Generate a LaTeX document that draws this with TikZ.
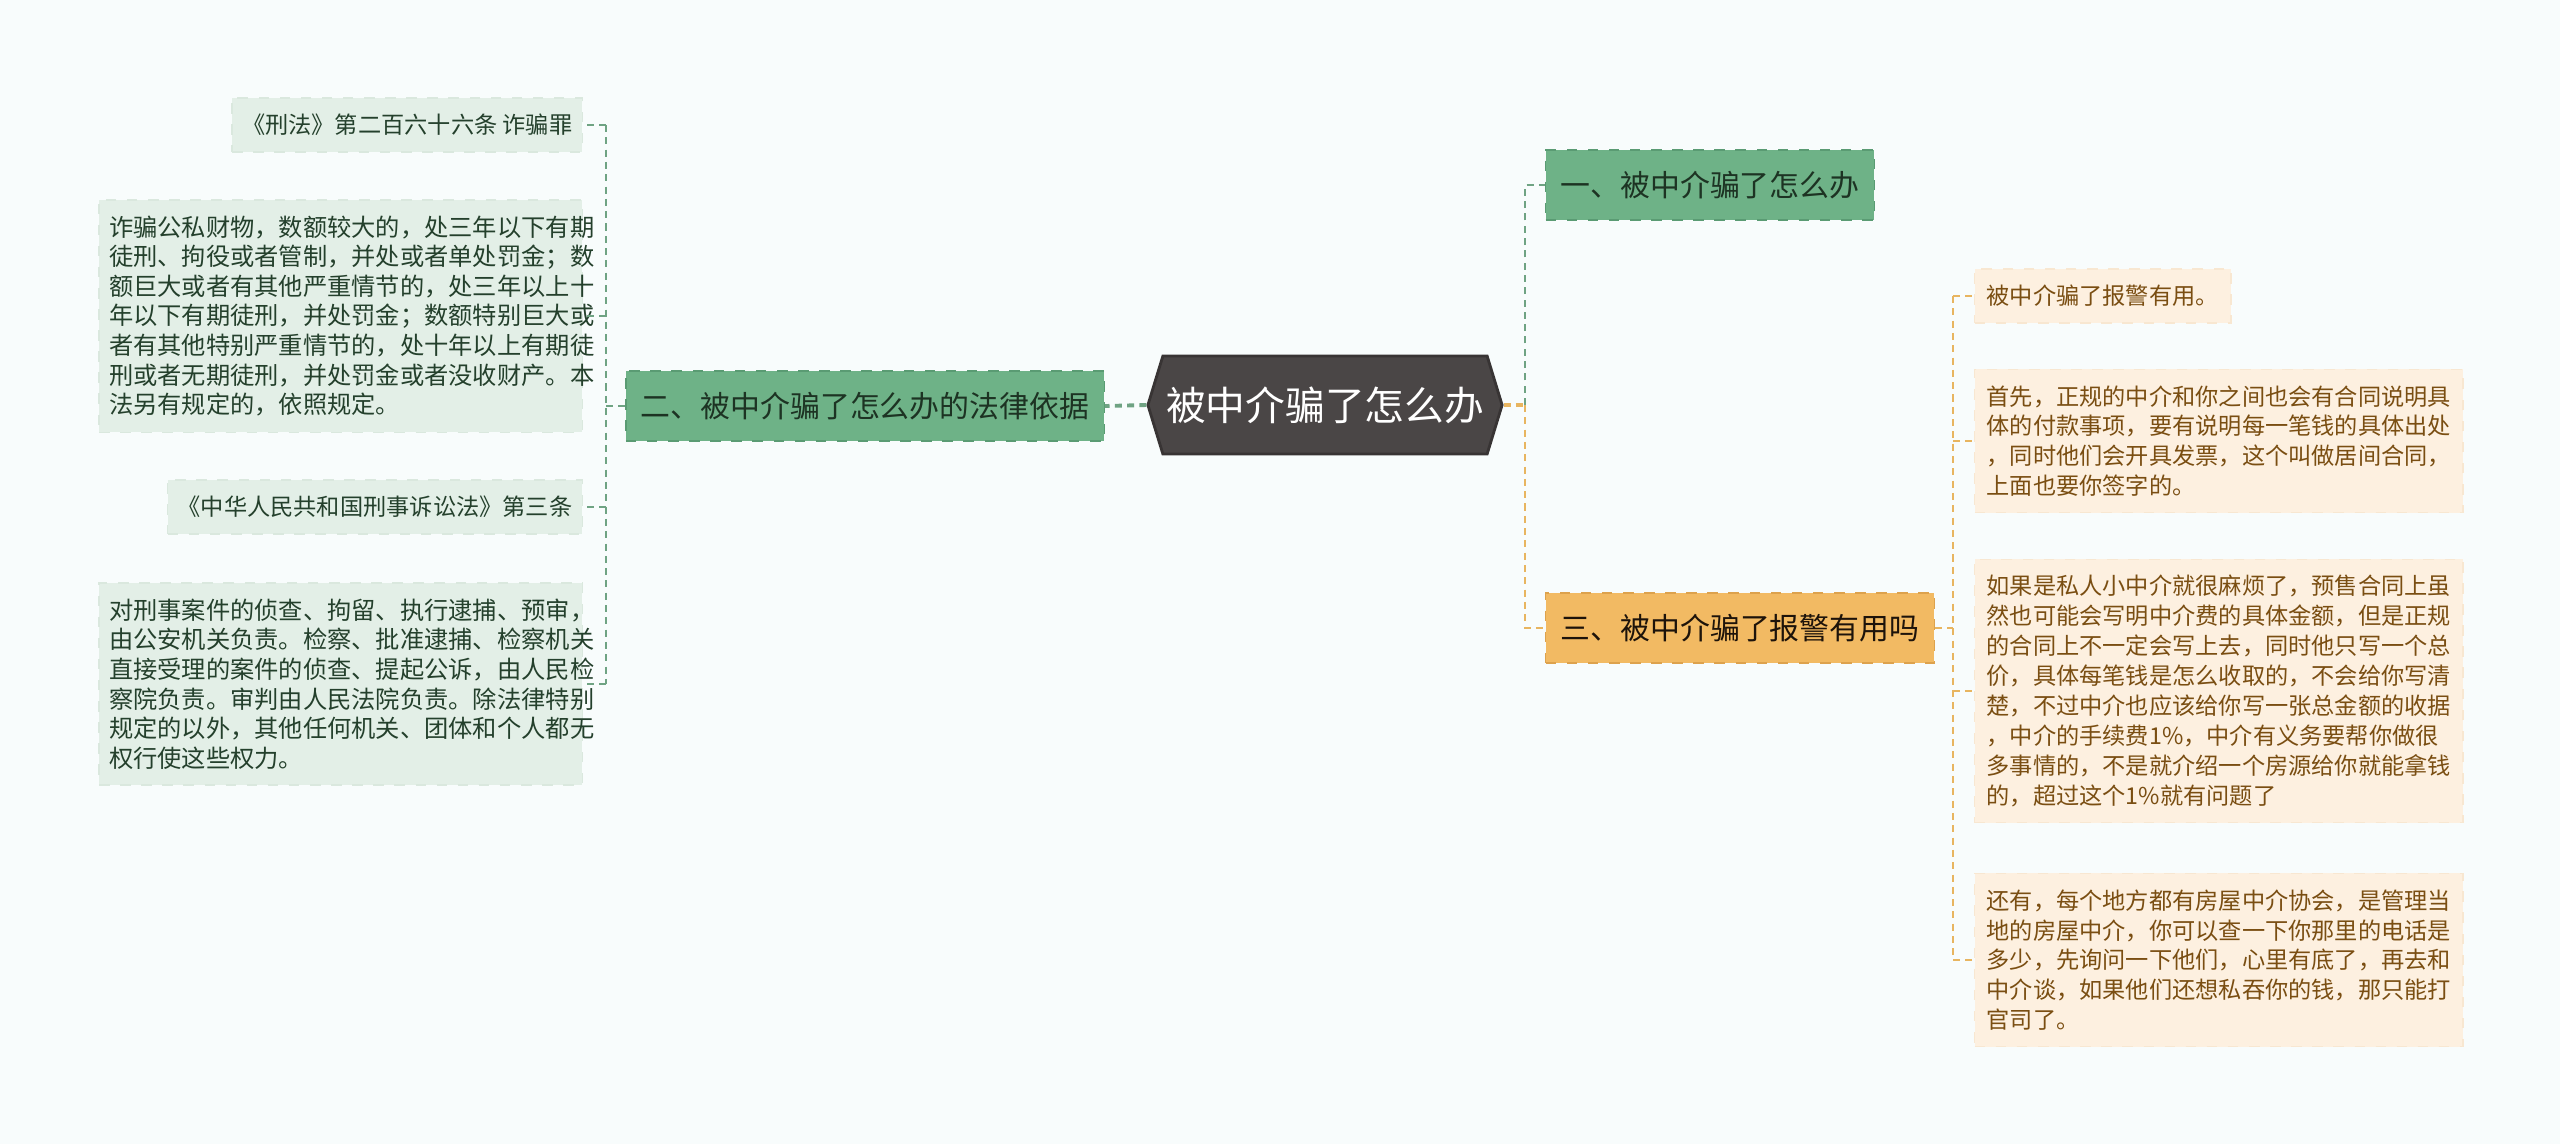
\documentclass[tikz,border=0pt]{standalone}
\usepackage{fontspec}
\setmainfont{Noto Sans CJK SC}
\usetikzlibrary{shapes.symbols}

\definecolor{bgcol}{HTML}{F8FCFC}
\definecolor{rootgray}{HTML}{4A4646}
\definecolor{rootedge}{HTML}{383434}
\definecolor{branchgreen}{HTML}{6EB287}
\definecolor{branchgreenedge}{HTML}{5A9B73}
\definecolor{branchorange}{HTML}{F2BA63}
\definecolor{branchorangeedge}{HTML}{DDA24D}
\definecolor{leafgreen}{HTML}{E3EFE7}
\definecolor{leafgreenedge}{HTML}{DAE8DE}
\definecolor{leafcream}{HTML}{FDF0E0}
\definecolor{leafcreamedge}{HTML}{F8E7D1}
\definecolor{textgreen}{HTML}{24402C}
\definecolor{textbrown}{HTML}{7A4E12}
\definecolor{linegreen}{HTML}{6FA383}
\definecolor{lineorange}{HTML}{E8B560}

\tikzset{
  rootnode/.style={signal, signal to=west and east, signal pointer angle=146,
    fill=rootgray, draw=rootedge, line width=0.8pt, text=white,
    font=\fontsize{11.3}{13}\selectfont, minimum width=3.54cm, minimum height=0.98cm, inner sep=0pt},
  greenbranch/.style={rectangle, fill=branchgreen, draw=branchgreenedge, dashed, text=textgreen!80!black,
    font=\fontsize{8.5}{10}\selectfont, minimum height=0.7cm, inner xsep=0.15cm},
  orangebranch/.style={greenbranch, fill=branchorange, draw=branchorangeedge, text=black!85!brown},
  lleaf/.style={rectangle, fill=leafgreen, draw=leafgreenedge, dashed, text=textgreen,
    font=\fontsize{6.6}{8.4}\selectfont, minimum height=0.54cm, inner xsep=0.1cm, inner ysep=0.16cm},
  lpara/.style={lleaf, font=\fontsize{6.9}{8.4}\selectfont, text width=4.63cm, align=left},
  rleaf/.style={rectangle, fill=leafcream, draw=leafcreamedge, dashed, text=textbrown,
    font=\fontsize{6.6}{8.5}\selectfont, minimum height=0.49cm, inner xsep=0.12cm, inner ysep=0.16cm},
  rpara/.style={rleaf, text width=4.64cm, align=left},
  gline/.style={draw=linegreen, line width=0.6pt, dash pattern=on 2pt off 1.5pt},
  oline/.style={draw=lineorange, line width=0.6pt, dash pattern=on 2pt off 1.5pt}
}

\begin{document}
\begin{tikzpicture}[x=0.01cm,y=-0.01cm]
  \fill[bgcol] (0,0) rectangle (2560,1144);
  \useasboundingbox (0,0) rectangle (2560,1144);

  % centre and the three branches
  \node[rootnode] (root) at (1325,405) {被中介骗了怎么办};
  \node[greenbranch] (b2) at (865,406) {二、被中介骗了怎么办的法律依据};
  \node[greenbranch] (b1) at (1710,185) {一、被中介骗了怎么办};
  \node[orangebranch] (b3) at (1740,628) {三、被中介骗了报警有用吗};

  % left leaves
  \node[lleaf, anchor=east] (l1) at (583,125) {《刑法》第二百六十六条 诈骗罪};
  \node[lpara, anchor=east] (l2) at (583,316) {诈骗公私财物，数额较大的，处三年以下有期\\
    徒刑、拘役或者管制，并处或者单处罚金；数\\
    额巨大或者有其他严重情节的，处三年以上十\\
    年以下有期徒刑，并处罚金；数额特别巨大或\\
    者有其他特别严重情节的，处十年以上有期徒\\
    刑或者无期徒刑，并处罚金或者没收财产。本\\
    法另有规定的，依照规定。};
  \node[lleaf, anchor=east] (l3) at (583,507) {《中华人民共和国刑事诉讼法》第三条};
  \node[lpara, anchor=east] (l4) at (583,684) {对刑事案件的侦查、拘留、执行逮捕、预审，\\
    由公安机关负责。检察、批准逮捕、检察机关\\
    直接受理的案件的侦查、提起公诉，由人民检\\
    察院负责。审判由人民法院负责。除法律特别\\
    规定的以外，其他任何机关、团体和个人都无\\
    权行使这些权力。};

  % right leaves
  \node[rleaf, anchor=west] (r1) at (1974,296) {被中介骗了报警有用。};
  \node[rpara, anchor=west] (r2) at (1974,441) {首先，正规的中介和你之间也会有合同说明具\\
    体的付款事项，要有说明每一笔钱的具体出处\\
    ，同时他们会开具发票，这个叫做居间合同，\\
    上面也要你签字的。};
  \node[rpara, anchor=west] (r3) at (1974,691) {如果是私人小中介就很麻烦了，预售合同上虽\\
    然也可能会写明中介费的具体金额，但是正规\\
    的合同上不一定会写上去，同时他只写一个总\\
    价，具体每笔钱是怎么收取的，不会给你写清\\
    楚，不过中介也应该给你写一张总金额的收据\\
    ，中介的手续费1\%，中介有义务要帮你做很\\
    多事情的，不是就介绍一个房源给你就能拿钱\\
    的，超过这个1\%就有问题了};
  \node[rpara, anchor=west] (r4) at (1974,960) {还有，每个地方都有房屋中介协会，是管理当\\
    地的房屋中介，你可以查一下你那里的电话是\\
    多少，先询问一下他们，心里有底了，再去和\\
    中介谈，如果他们还想私吞你的钱，那只能打\\
    官司了。};

  % bracket coordinates
  \coordinate (lbar) at (606,0);
  \coordinate (mbar) at (1525,0);
  \coordinate (rbar) at (1953,0);

  % root to branches
  \draw[gline, line width=1.1pt] (root.west) -- (b2.east);
  \draw[oline, line width=1.1pt] (root.east) -- (mbar |- root.east);
  \draw[gline] (mbar |- root.east) -- (mbar |- b1.west) -- (b1.west);
  \draw[oline] (mbar |- root.east) -- (mbar |- b3.west) -- (b3.west);

  % left bracket
  \draw[gline] (b2.west) -- (lbar |- b2.west);
  \draw[gline] (lbar |- l1.east) -- (lbar |- l4.east);
  \draw[gline] (lbar |- l1.east) -- (l1.east);
  \draw[gline] (lbar |- l2.east) -- (l2.east);
  \draw[gline] (lbar |- l3.east) -- (l3.east);
  \draw[gline] (lbar |- l4.east) -- (l4.east);

  % right bracket
  \draw[oline] (b3.east) -- (rbar |- b3.east);
  \draw[oline] (rbar |- r1.west) -- (rbar |- r4.west);
  \draw[oline] (rbar |- r1.west) -- (r1.west);
  \draw[oline] (rbar |- r2.west) -- (r2.west);
  \draw[oline] (rbar |- r3.west) -- (r3.west);
  \draw[oline] (rbar |- r4.west) -- (r4.west);
\end{tikzpicture}
\end{document}
